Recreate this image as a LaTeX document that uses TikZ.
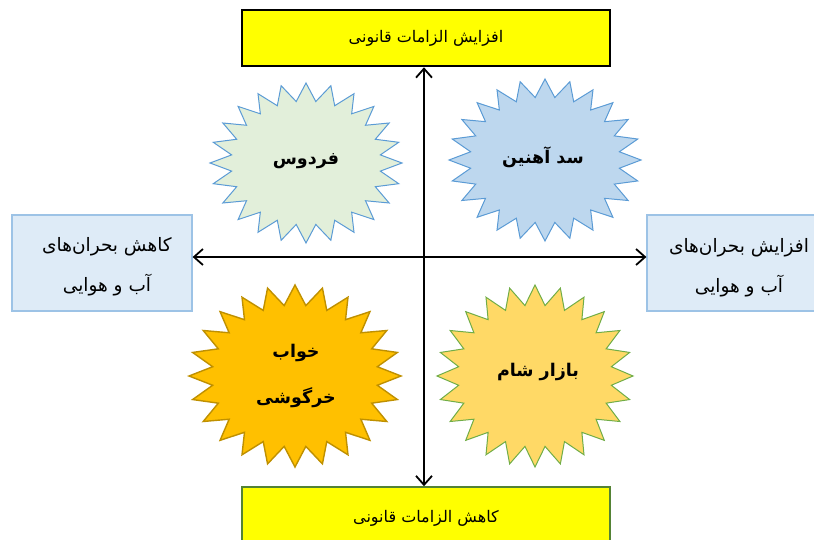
\documentclass[tikz,border=0pt]{standalone}
\usepackage{fontspec}
\usetikzlibrary{arrows.meta}
\TeXXeTstate=1
\newfontfamily\arabicfont[Script=Arabic]{DejaVu Sans}
\definecolor{yel}{HTML}{FFFF00}
\definecolor{boxblue}{HTML}{DEEBF7}
\definecolor{boxblueline}{HTML}{9DC3E6}
\definecolor{starline}{HTML}{5B9BD5}
\definecolor{greenfill}{HTML}{E2EFDA}
\definecolor{bluefill}{HTML}{BDD7EE}
\definecolor{orangefill}{HTML}{FFC000}
\definecolor{orangeline}{HTML}{BF9000}
\definecolor{goldfill}{HTML}{FFD966}
\definecolor{greenline}{HTML}{70AD47}
\definecolor{darkgreen}{HTML}{548235}
\tikzset{
  lawbox/.style={fill=yel, minimum width=368pt, inner sep=0pt, font=\arabicfont\fontsize{16}{20}\selectfont},
  lawtext/.style={inner sep=0pt, font=\arabicfont\fontsize{16}{20}\selectfont},
  crisisbox/.style={fill=boxblue, draw=boxblueline, line width=1.2pt, minimum width=180pt, minimum height=96pt, inner sep=0pt},
  crisistext/.style={align=center, font=\arabicfont\fontsize{18.5}{40}\selectfont},
  startext/.style={align=center, font=\arabicfont\bfseries\fontsize{17.5}{46}\selectfont},
  axis/.style={line width=1.8pt, {Straight Barb[length=9pt,width=16pt]}-{Straight Barb[length=9pt,width=16pt]}},
  starshape/.style={line width=1pt, line join=miter}
}
\begin{document}
\begin{tikzpicture}[x=1pt,y=-1pt]
\useasboundingbox (0,0) rectangle (814,540);
\begin{scope}
\clip (0,0) rectangle (814,540);
% boxes
\node[lawbox, draw=black, line width=2.6pt, minimum height=56pt] (top) at (426,38) {\beginR افزایش الزامات قانونی\endR};
\node[lawbox, draw=darkgreen, line width=1.6pt, minimum height=70pt] (bottom) at (426,522) {};
\node[lawtext] (bottomtext) at (426,518) {\beginR کاهش الزامات قانونی\endR};
\node[crisisbox] (left) at (102,263) {};
\node[crisistext] (lefttext) at (107,267) {\beginR کاهش بحران‌های\endR\\ \beginR آب و هوایی\endR};
\node[crisisbox, minimum width=190pt] (right) at (742,263) {};
\node[crisistext] (righttext) at (739,268) {\beginR افزایش بحران‌های\endR\\ \beginR آب و هوایی\endR};
% stars
\filldraw[starshape, fill=greenfill, draw=starline] plot[samples at={0,...,47}] ({306+(mod(\x,2)==0?96:75)*cos(\x*7.5+90)},{163+(mod(\x,2)==0?80:62)*sin(\x*7.5+90)}) -- cycle;
\filldraw[starshape, fill=bluefill, draw=starline] plot[samples at={0,...,47}] ({545+(mod(\x,2)==0?96:75)*cos(\x*7.5+90)},{160+(mod(\x,2)==0?81:63)*sin(\x*7.5+90)}) -- cycle;
\filldraw[starshape, fill=orangefill, draw=orangeline, line width=1.4pt] plot[samples at={0,...,47}] ({295+(mod(\x,2)==0?106:83)*cos(\x*7.5+90)},{376+(mod(\x,2)==0?91:71)*sin(\x*7.5+90)}) -- cycle;
\filldraw[starshape, fill=goldfill, draw=greenline] plot[samples at={0,...,47}] ({535+(mod(\x,2)==0?98:77)*cos(\x*7.5+90)},{376+(mod(\x,2)==0?91:71)*sin(\x*7.5+90)}) -- cycle;
\node[startext] (ferdows) at (306,161) {\beginR فردوس\endR};
\node[startext] (sad) at (543,157) {\beginR سد آهنین\endR};
\node[startext] (khab) at (296,376) {\beginR خواب\endR\\ \beginR خرگوشی\endR};
\node[startext] (bazar) at (538,372) {\beginR بازار شام\endR};
% axes
\draw[axis] ([xshift=-2pt]top.south) -- ([xshift=-2pt]bottom.north);
\draw[axis] ([yshift=6pt]left.east) -- ([yshift=6pt]right.west);
\end{scope}
\end{tikzpicture}
\end{document}
